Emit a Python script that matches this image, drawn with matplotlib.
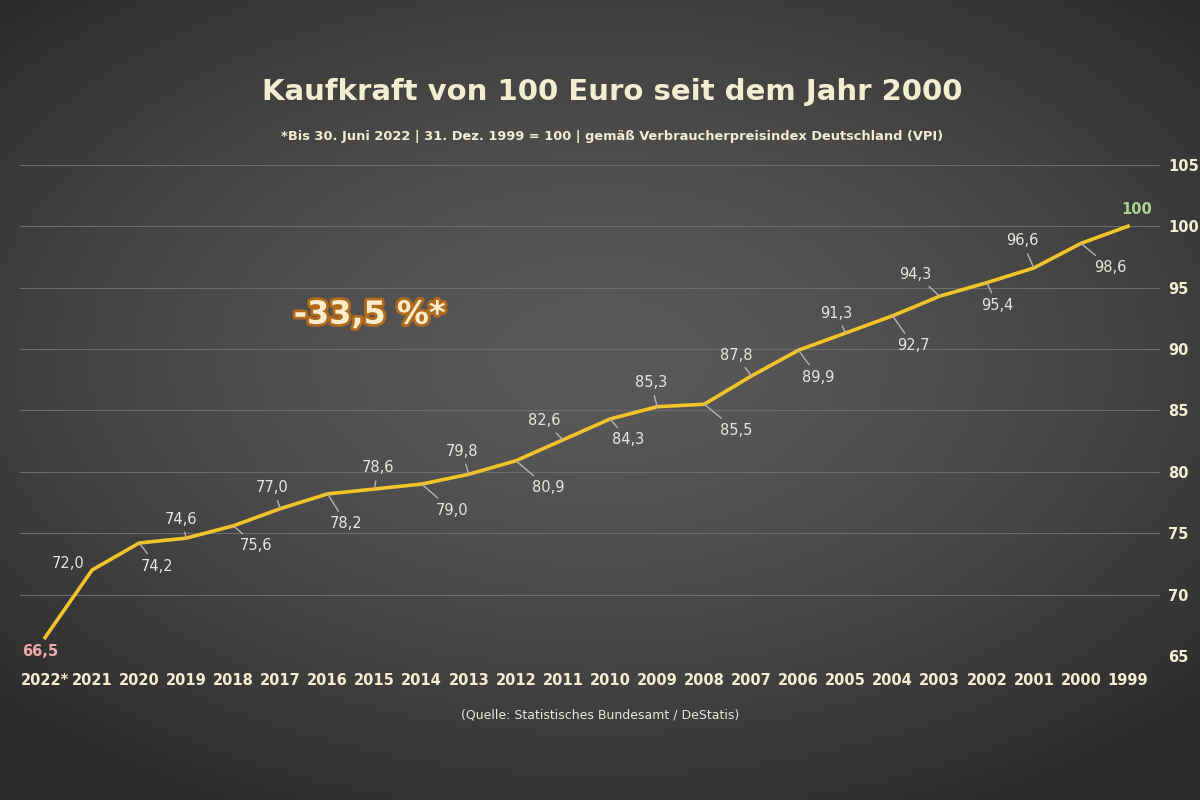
import numpy as np
import matplotlib
matplotlib.use("Agg")
from matplotlib import pyplot as plt
import matplotlib.patheffects as pe

plt.rcParams['font.family'] = ['DejaVu Sans']

# Daten: Kaufkraft von 100 Euro (VPI, 1999 = 100)
years = ['1999', '2000', '2001', '2002', '2003', '2004', '2005', '2006',
         '2007', '2008', '2009', '2010', '2011', '2012', '2013', '2014',
         '2015', '2016', '2017', '2018', '2019', '2020', '2021', '2022*']
values = [100.0, 98.6, 96.6, 95.4, 94.3, 92.7, 91.3, 89.9,
          87.8, 85.5, 85.3, 84.3, 82.6, 80.9, 79.8, 79.0,
          78.6, 78.2, 77.0, 75.6, 74.6, 74.2, 72.0, 66.5]
y_ticks = [65, 70, 75, 80, 85, 90, 95, 100, 105]

# Lage der Beschriftungen (Pixel relativ zum Punkt)
label_offsets = [(9, 17), (29, -24), (-12, 27), (11, -23), (-24, 22), (21, -30),
                 (-9, 20), (20, -27), (-15, 21), (32, -26), (-6, 24), (18, -21),
                 (-19, 19), (32, -27), (-7, 23), (30, -26), (3, 21), (19, -30),
                 (-8, 21), (23, -20), (-5, 19), (18, -23), (-24, 7), (-5, -14)]

cream = '#f3eed2'
fig = plt.figure(figsize=(12, 8), dpi=100)

# Hintergrund mit radialem Verlauf
bg = fig.add_axes([0, 0, 1, 1], zorder=-10)
gx, gy = np.meshgrid(np.linspace(-1, 1, 300), np.linspace(-1, 1, 200))
r = np.sqrt(gx ** 2 + ((gy + 0.1) * 1.1) ** 2)
shade = np.clip(0.35 - 0.11 * r ** 1.5, 0.17, 0.35)
bg.imshow(np.dstack([shade, shade, shade]), aspect='auto', extent=[0, 1, 0, 1])
bg.axis('off')

ax = fig.add_axes([0.0167, 0.18, 0.95, 0.614])
ax.patch.set_alpha(0)
x = np.arange(len(years))
ax.plot(x, values, color='#f2c42a', lw=2.6, solid_joinstyle='round', zorder=3)

for i, (v, off) in enumerate(zip(values, label_offsets)):
    txt = f'{v:.1f}'.replace('.', ',')
    if i == 0:
        txt = '100'
    color = '#e6e8e0'
    if i == 0:
        color = '#a9d38f'
    elif i == len(values) - 1:
        color = '#f0a8a8'
    leader = None
    if i not in (0, 22, 23):
        leader = dict(arrowstyle='-', color='#b4b4b4', lw=1.0, shrinkA=2, shrinkB=0)
    ax.annotate(txt, (x[i], v), xytext=off, textcoords='offset pixels',
                ha='center', va='center', fontsize=10.5, color=color,
                fontweight='bold' if i in (0, 23) else 'normal',
                arrowprops=leader, zorder=4)

ax.set_xlim(23.53, -0.68)
ax.set_ylim(65, 105)
ax.set_xticks(x)
ax.set_xticklabels(years)
ax.set_yticks(y_ticks)
ax.yaxis.tick_right()
ax.tick_params(axis='x', length=0, colors=cream, labelsize=10.5, pad=12)
ax.tick_params(axis='y', length=0, colors=cream, labelsize=10.5, pad=6)
for lab in ax.get_xticklabels() + ax.get_yticklabels():
    lab.set_fontweight('bold')
ax.grid(axis='y', color='#6c6c6c', lw=0.8)
ax.grid(axis='x', visible=False)
for s in ax.spines.values():
    s.set_visible(False)

fig.text(0.51, 0.885, 'Kaufkraft von 100 Euro seit dem Jahr 2000', ha='center', va='center',
         fontsize=21, fontweight='bold', color=cream)
fig.text(0.51, 0.829, '*Bis 30. Juni 2022 | 31. Dez. 1999 = 100 | gemäß Verbraucherpreisindex Deutschland (VPI)',
         ha='center', va='center', fontsize=9.4, fontweight='bold', color=cream)
fig.text(0.5, 0.106, '(Quelle: Statistisches Bundesamt / DeStatis)', ha='center', va='center',
         fontsize=9, color='#e8e8e0')
fig.text(0.308, 0.606, '-33,5 %*', ha='center', va='center', fontsize=23, fontweight='bold',
         color='#fbeccc', path_effects=[pe.withStroke(linewidth=4, foreground='#b06a1c')])

fig.savefig('out.png', dpi=100)
